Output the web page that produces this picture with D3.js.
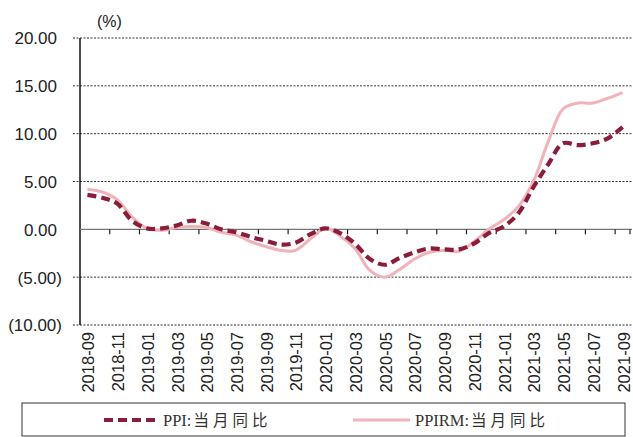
<!DOCTYPE html>
<html>
<head>
<meta charset="utf-8">
<script src="https://cdn.jsdelivr.net/npm/d3@7"></script>
<style>
  html, body { margin: 0; padding: 0; background: #fff; }
  svg { display: block; }
</style>
</head>
<body>
<svg id="chart" width="633" height="437"></svg>
<script>
// Monthly categories, 2018-09 .. 2021-09
const months = [
  "2018-09","2018-10","2018-11","2018-12",
  "2019-01","2019-02","2019-03","2019-04","2019-05","2019-06","2019-07","2019-08","2019-09","2019-10","2019-11","2019-12",
  "2020-01","2020-02","2020-03","2020-04","2020-05","2020-06","2020-07","2020-08","2020-09","2020-10","2020-11","2020-12",
  "2021-01","2021-02","2021-03","2021-04","2021-05","2021-06","2021-07","2021-08","2021-09"
];
// PPI year-on-year (%)
const ppi = [
  3.6, 3.3, 2.7, 0.9,
  0.1, 0.1, 0.4, 0.9, 0.6, 0.0, -0.3, -0.8, -1.2, -1.6, -1.4, -0.5,
  0.1, -0.4, -1.5, -3.1, -3.7, -3.0, -2.4, -2.0, -2.1, -2.1, -1.5, -0.4,
  0.3, 1.7, 4.4, 6.8, 9.0, 8.8, 9.0, 9.5, 10.7
];
// PPIRM year-on-year (%)
const ppirm = [
  4.2, 3.9, 3.1, 1.3,
  0.1, -0.1, 0.2, 0.3, 0.2, -0.3, -0.6, -1.3, -1.8, -2.2, -2.2, -1.0,
  0.1, -0.7, -2.0, -4.3, -5.0, -4.2, -3.1, -2.4, -2.2, -2.3, -1.3, 0.0,
  1.0, 2.4, 5.0, 9.2, 12.6, 13.2, 13.2, 13.7, 14.3
];
const yTicks = [20, 15, 10, 5, 0, -5, -10];
const seriesNames = ["PPI:当月同比", "PPIRM:当月同比"];

const svg = d3.select("#chart");
const plotLeft = 80, plotRight = 630, plotTop = 38, plotBottom = 325;

const x = d3.scaleBand().domain(months).range([plotLeft, plotRight]).padding(0);
const y = d3.scaleLinear().domain([-10, 20]).range([plotBottom, plotTop]);
const cx = d => x(d) + x.bandwidth() / 2;

const sansFont = "'Liberation Sans', Arial, sans-serif";
const ppiColor = "#8C1C3C", ppirmColor = "#F0B3BA";

// Horizontal gridlines (dotted), zero line handled separately
const grid = svg.append("g");
yTicks.filter(v => v !== 0).forEach(v => {
  grid.append("line")
    .attr("x1", plotLeft - 7).attr("x2", 632)
    .attr("y1", y(v)).attr("y2", y(v))
    .attr("stroke", "#333").attr("stroke-width", 1)
    .attr("stroke-dasharray", "2,1.5");
});

// Y axis labels, accounting-style negatives
const fmt = v => v < 0 ? "(" + d3.format(".2f")(-v) + ")" : d3.format(".2f")(v);
const yAxis = d3.axisLeft(y).tickValues(yTicks).tickSize(0).tickFormat(fmt);
const yg = svg.append("g").attr("transform", `translate(${plotLeft - 18},0)`).call(yAxis);
yg.select(".domain").remove();
yg.selectAll("text")
  .attr("font-family", sansFont).attr("font-size", 17).attr("fill", "#222")
  .attr("x", d => d < 0 ? 0 : -5)
  .attr("dy", "0.35em");

// Y axis line
svg.append("line")
  .attr("x1", plotLeft).attr("x2", plotLeft)
  .attr("y1", plotTop).attr("y2", plotBottom)
  .attr("stroke", "#111").attr("stroke-width", 1.5);

// Zero line with downward tick marks every two months
svg.append("line")
  .attr("x1", plotLeft).attr("x2", 632)
  .attr("y1", y(0)).attr("y2", y(0))
  .attr("stroke", "#777").attr("stroke-width", 1.3);
months.forEach((m, i) => {
  if (i > 0 && i % 2 === 0) {
    svg.append("line")
      .attr("x1", x(m)).attr("x2", x(m))
      .attr("y1", y(0)).attr("y2", y(0) + 5)
      .attr("stroke", "#222").attr("stroke-width", 1.2);
  }
});
svg.append("line")
  .attr("x1", plotRight).attr("x2", plotRight)
  .attr("y1", y(0)).attr("y2", y(0) + 5)
  .attr("stroke", "#222").attr("stroke-width", 1.2);

// X labels (every other month), rotated
months.forEach((m, i) => {
  if (i % 2 === 0) {
    svg.append("text")
      .attr("transform", `translate(${cx(m) + 1},${plotBottom + 7}) rotate(-90)`)
      .attr("text-anchor", "end")
      .attr("dy", "0.36em")
      .attr("font-family", sansFont).attr("font-size", 16.5).attr("fill", "#222")
      .text(m);
  }
});

// Unit label
svg.append("text")
  .attr("x", 97).attr("y", 27)
  .attr("font-family", sansFont).attr("font-size", 16).attr("fill", "#222")
  .text("(%)");

// Series lines
const line = vals => d3.line()
  .x((d, i) => cx(months[i]))
  .y(d => y(d))
  .curve(d3.curveCatmullRom.alpha(0.5))(vals);

svg.append("path")
  .attr("d", line(ppirm))
  .attr("fill", "none").attr("stroke", ppirmColor).attr("stroke-width", 3);

svg.append("path")
  .attr("d", line(ppi))
  .attr("fill", "none").attr("stroke", ppiColor).attr("stroke-width", 4.2)
  .attr("stroke-dasharray", "9,5");

// Legend
const lg = svg.append("g");
lg.append("rect")
  .attr("x", 22).attr("y", 403).attr("width", 603).attr("height", 33)
  .attr("fill", "#fff").attr("stroke", "#333").attr("stroke-width", 1);

function legendLabel(xPos, name) {
  const [latin, cjk] = name.split(":");
  const t = lg.append("text")
    .attr("x", xPos).attr("y", 426)
    .attr("font-family", "'Liberation Serif', 'Noto Sans CJK SC', serif")
    .attr("font-size", 16.5).attr("fill", "#333");
  t.append("tspan").text(latin + ":");
  t.append("tspan").attr("letter-spacing", 4).attr("dx", 2)
    .attr("font-family", "'Noto Sans CJK SC', serif").attr("font-size", 15.5)
    .text(cjk);
}

lg.append("line")
  .attr("x1", 104).attr("x2", 158).attr("y1", 420).attr("y2", 420)
  .attr("stroke", ppiColor).attr("stroke-width", 4)
  .attr("stroke-dasharray", "9,5");
legendLabel(163, seriesNames[0]);

lg.append("line")
  .attr("x1", 353).attr("x2", 410).attr("y1", 420).attr("y2", 420)
  .attr("stroke", ppirmColor).attr("stroke-width", 3);
legendLabel(415, seriesNames[1]);
</script>
</body>
</html>
